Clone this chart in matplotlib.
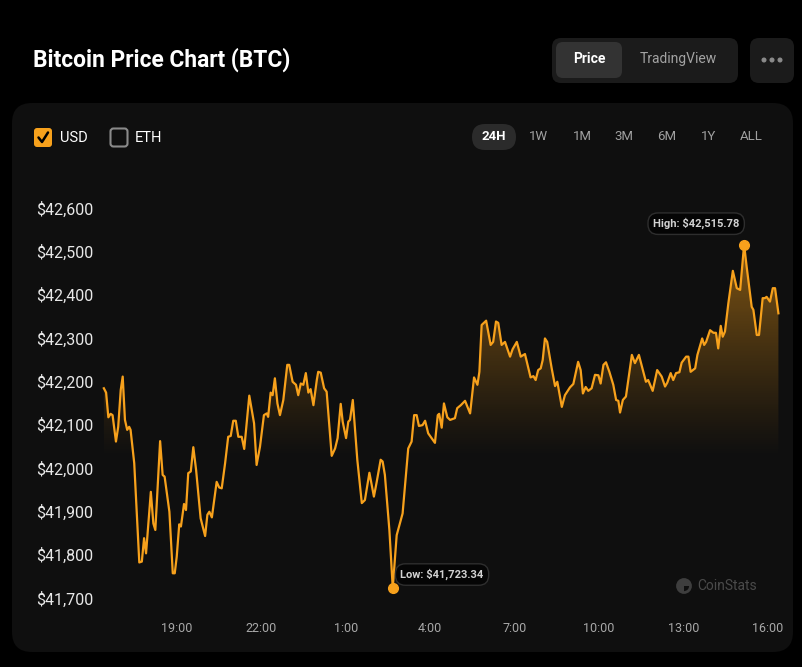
import numpy as np
import matplotlib.pyplot as plt
from matplotlib.patches import FancyBboxPatch, Circle, Wedge
from matplotlib.path import Path
from matplotlib.patches import PathPatch

plt.rcParams['font.family'] = ['Roboto', 'DejaVu Sans']

# BTC price, last 24h (hours of day, >24 = next day)
hours = [
    16.40, 16.48, 16.56, 16.64, 16.71, 16.83, 16.91, 17.00, 17.07, 17.15,
    17.23, 17.30, 17.35, 17.48, 17.66, 17.75, 17.83, 17.90, 18.07, 18.16,
    18.23, 18.40, 18.49, 18.56, 18.73, 18.85, 18.92, 18.99, 19.08, 19.14,
    19.25, 19.32, 19.40, 19.49, 19.58, 19.68, 19.84, 20.00, 20.08, 20.15,
    20.24, 20.41, 20.50, 20.59, 20.71, 20.82, 20.91, 21.00, 21.09, 21.18,
    21.30, 21.39, 21.57, 21.74, 21.83, 21.95, 22.09, 22.19, 22.24, 22.33,
    22.40, 22.48, 22.57, 22.66, 22.78, 22.92, 22.99, 23.11, 23.23, 23.31,
    23.40, 23.49, 23.58, 23.67, 23.75, 23.85, 23.97, 24.02, 24.11, 24.23,
    24.32, 24.50, 24.62, 24.71, 24.82, 24.89, 25.01, 25.09, 25.15, 25.25,
    25.41, 25.57, 25.68, 25.84, 26.00, 26.10, 26.24, 26.31, 26.39, 26.55,
    26.67, 26.81, 27.02, 27.22, 27.34, 27.43, 27.52, 27.60, 27.73, 27.82,
    27.93, 28.08, 28.17, 28.27, 28.32, 28.41, 28.49, 28.61, 28.71, 28.88,
    28.96, 29.09, 29.24, 29.42, 29.56, 29.68, 29.75, 29.83, 29.99, 30.15,
    30.24, 30.34, 30.42, 30.54, 30.66, 30.84, 30.93, 31.08, 31.22, 31.37,
    31.57, 31.67, 31.75, 31.84, 31.93, 32.00, 32.08, 32.16, 32.32, 32.44,
    32.52, 32.68, 32.79, 32.97, 33.09, 33.26, 33.35, 33.43, 33.53, 33.62,
    33.74, 33.86, 33.98, 34.06, 34.16, 34.25, 34.37, 34.51, 34.61, 34.69,
    34.75, 34.85, 34.96, 35.17, 35.28, 35.42, 35.56, 35.67, 35.75, 35.91,
    36.07, 36.23, 36.35, 36.43, 36.55, 36.64, 36.74, 36.86, 36.94, 37.10,
    37.18, 37.26, 37.42, 37.50, 37.62, 37.67, 37.74, 37.81, 37.95, 38.07,
    38.16, 38.24, 38.33, 38.40, 38.48, 38.60, 38.76, 38.90, 39.02, 39.16,
    39.25, 39.43, 39.49, 39.61, 39.69, 39.82, 39.90, 39.96, 40.08, 40.18,
    40.26, 40.38,
]
prices = [
    42184, 42174, 42117, 42125, 42122, 42061, 42095, 42180, 42211, 42111,
    42088, 42095, 42088, 42011, 41782, 41784, 41838, 41803, 41945, 41872,
    41857, 42062, 41984, 41980, 41899, 41757, 41757, 41795, 41870, 41865,
    41917, 41903, 41988, 41992, 42048, 41995, 41884, 41843, 41892, 41899,
    41886, 41968, 41955, 41953, 42011, 42072, 42074, 42109, 42109, 42072,
    42072, 42044, 42167, 42103, 42007, 42049, 42122, 42126, 42118, 42174,
    42168, 42207, 42149, 42122, 42157, 42238, 42238, 42199, 42192, 42168,
    42195, 42192, 42219, 42174, 42182, 42145, 42203, 42222, 42220, 42184,
    42176, 42028, 42045, 42069, 42148, 42107, 42069, 42107, 42111, 42157,
    42019, 41919, 41926, 41989, 41934, 41968, 42019, 42015, 41984, 41857,
    41723.34, 41845, 41895, 42045, 42061, 42122, 42122, 42097, 42099, 42109,
    42080, 42066, 42058, 42122, 42125, 42093, 42149, 42117, 42111, 42115,
    42138, 42145, 42155, 42126, 42209, 42192, 42222, 42330, 42340, 42284,
    42291, 42338, 42335, 42284, 42291, 42257, 42274, 42291, 42257, 42263,
    42209, 42212, 42203, 42226, 42230, 42249, 42299, 42291, 42230, 42189,
    42199, 42141, 42168, 42186, 42194, 42245, 42226, 42172, 42187, 42178,
    42184, 42215, 42214, 42195, 42238, 42244, 42222, 42192, 42157, 42155,
    42128, 42157, 42165, 42261, 42242, 42261, 42226, 42199, 42203, 42178,
    42226, 42211, 42188, 42197, 42219, 42203, 42219, 42221, 42243, 42257,
    42257, 42222, 42230, 42261, 42288, 42299, 42284, 42291, 42318, 42312,
    42312, 42276, 42328, 42303, 42315, 42380, 42455, 42415, 42411, 42515.78,
    42465, 42372, 42365, 42307, 42307, 42392, 42392, 42395, 42384, 42415,
    42415, 42357,
]
y_ticks = [41700, 41800, 41900, 42000, 42100, 42200, 42300, 42400, 42500, 42600]
x_ticks = [19, 22, 25, 28, 31, 34, 37, 40]
x_labels = ['19:00', '22:00', '1:00', '4:00', '7:00', '10:00', '13:00', '16:00']
ranges = ['24H', '1W', '1M', '3M', '6M', '1Y', 'ALL']

ORANGE = '#f7a11c'
CARD = '#0f0f0f'

W, H = 802, 667
fig = plt.figure(figsize=(W / 100, H / 100), dpi=100, facecolor='black')

# background layer in pixel coordinates
bg = fig.add_axes([0, 0, 1, 1], zorder=0)
bg.set_xlim(0, W)
bg.set_ylim(H, 0)
bg.axis('off')


def rbox(x0, y0, x1, y1, r, fc, ec='none', lw=0):
    bg.add_patch(FancyBboxPatch((x0 + r, y0 + r), x1 - x0 - 2 * r, y1 - y0 - 2 * r,
                                boxstyle=f'round,pad={r}', fc=fc, ec=ec, lw=lw))


# card
rbox(12, 103, 793, 652, 20, CARD)

# header
bg.text(33, 60, 'Bitcoin Price Chart (BTC)', color='white', fontsize=16.4,
        fontweight='bold', va='center', ha='left')
rbox(552, 38, 738, 83, 9, '#1b1b1b')
rbox(556, 42, 622, 78, 7, '#333333')
bg.text(589, 59, 'Price', color='white', fontsize=10, fontweight='bold', ha='center', va='center')
bg.text(678, 59, 'TradingView', color='#a3a3a3', fontsize=10, ha='center', va='center')
rbox(750, 38, 794, 83, 9, '#1b1b1b')
for dx in (-8, 0, 8):
    bg.add_patch(Circle((772 + dx, 60), 1.8, color='#8a8a8a'))

# currency checkboxes
rbox(34, 128, 52, 147, 3, ORANGE)
bg.plot([38.5, 42, 48], [137.5, 142, 132.5], color='black', lw=1.8, solid_capstyle='round')
bg.text(60, 138, 'USD', color='white', fontsize=10.5, va='center', ha='left')
rbox(110.5, 128.5, 127.5, 146.5, 3, 'none', ec='#8a8a8a', lw=1.5)
bg.text(135, 138, 'ETH', color='white', fontsize=10.5, va='center', ha='left')

# time range selector
rbox(472, 124, 516, 150, 13, '#2b2b2b')
for lab, cx in zip(ranges, [494, 539, 582, 624, 667, 709, 751]):
    sel = lab == '24H'
    bg.text(cx, 137, lab, color='white' if sel else '#a0a0a0', fontsize=9.5,
            fontweight='bold' if sel else 'normal', ha='center', va='center')

# watermark
bg.add_patch(Circle((684, 586), 6.5, fc='none', ec='#3e3e3e', lw=2))
bg.add_patch(Wedge((684, 586), 6.5, 90, 360, fc='#3e3e3e', ec='none'))
bg.text(697, 586, 'CoinStats', color='#4a4a4a', fontsize=10, va='center', ha='left')

# main chart
ax = fig.add_axes([100 / W, 1 - 605 / H, 685 / W, 430 / H], zorder=2)
ax.patch.set_alpha(0)
x0, x1 = 16.263, 40.614
y0, y1 = 41683.8, 42676.2
ax.set_xlim(x0, x1)
ax.set_ylim(y0, y1)

# gradient fill under the line
grad = np.zeros((256, 1, 4))
yy = np.linspace(y0, y1, 256)
alpha = np.clip((yy - 42020) / (42532 - 42020), 0, 1) ** 1.15 * 0.52
grad[:, 0, 0] = 0.96
grad[:, 0, 1] = 0.62
grad[:, 0, 2] = 0.1
grad[:, 0, 3] = alpha
im = ax.imshow(grad, extent=[x0, x1, y0, y1], origin='lower', aspect='auto', zorder=1)
verts = np.vstack([np.column_stack([hours, prices]),
                   [[hours[-1], y0], [hours[0], y0]]])
clip = PathPatch(Path(verts), transform=ax.transData, fc='none', ec='none')
ax.add_patch(clip)
im.set_clip_path(clip)

ax.plot(hours, prices, color=ORANGE, lw=1.6, zorder=3, solid_joinstyle='round')

hi = int(np.argmax(prices))
lo = int(np.argmin(prices))
ax.plot([hours[hi], hours[lo]], [prices[hi], prices[lo]], 'o', color=ORANGE, ms=7, zorder=4)

pill = dict(boxstyle='round,pad=0.45,rounding_size=0.9', fc='#050505', ec='#2e2e2e', lw=1)
ax.annotate(f'High: ${prices[hi]:,.2f}', (hours[hi], prices[hi]), xytext=(-34.5, 15),
            textcoords='offset points', ha='center', va='center', color='#d2d2d2',
            fontsize=8, fontweight='bold', bbox=pill, zorder=5)
ax.annotate(f'Low: ${prices[lo]:,.2f}', (hours[lo], prices[lo]), xytext=(35.5, 9.6),
            textcoords='offset points', ha='center', va='center', color='#d2d2d2',
            fontsize=8, fontweight='bold', bbox=pill, zorder=5)

ax.set_yticks(y_ticks)
ax.set_yticklabels([f'${v:,}' for v in y_ticks])
ax.set_xticks(x_ticks)
ax.set_xticklabels(x_labels)
ax.tick_params(axis='y', length=0, pad=5, labelsize=11.5, labelcolor='#e8e8e8')
ax.tick_params(axis='x', length=0, pad=12, labelsize=9, labelcolor='#a8a8a8')
for s in ax.spines.values():
    s.set_visible(False)

fig.savefig('out.png', dpi=100, facecolor='black')
